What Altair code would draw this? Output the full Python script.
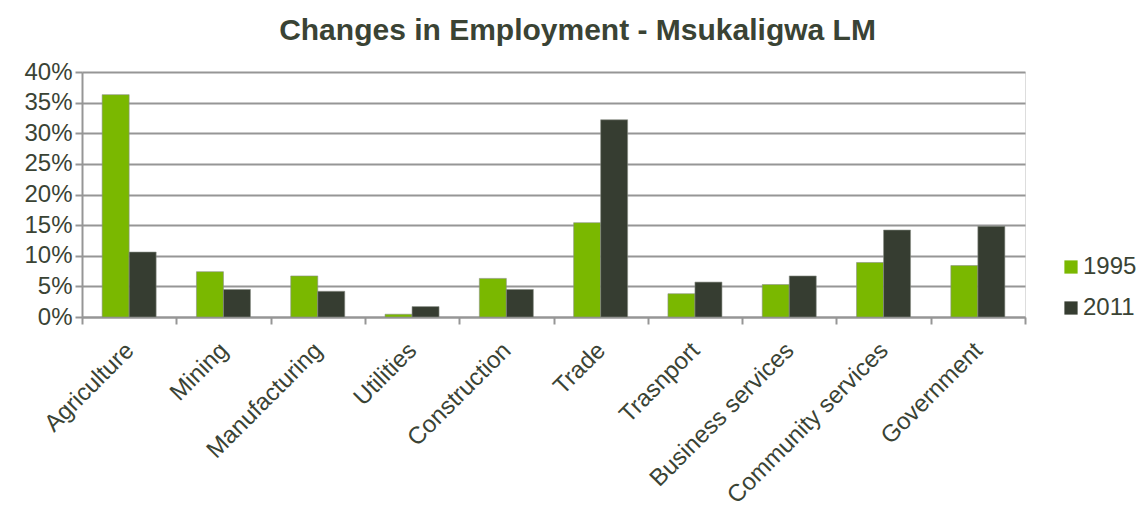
import altair as alt
import pandas as pd

categories = ["Agriculture", "Mining", "Manufacturing", "Utilities", "Construction",
              "Trade", "Trasnport", "Business services", "Community services", "Government"]
years = ["1995", "2011"]
values_1995 = [36.3, 7.4, 6.7, 0.45, 6.3, 15.4, 3.8, 5.3, 8.9, 8.4]
values_2011 = [10.6, 4.5, 4.2, 1.7, 4.5, 32.2, 5.7, 6.7, 14.2, 14.8]
y_ticks = [0, 0.05, 0.10, 0.15, 0.20, 0.25, 0.30, 0.35, 0.40]
colors = ["#7ab800", "#363d31"]

rows = []
for c, a, b in zip(categories, values_1995, values_2011):
    rows.append({"Sector": c, "Year": years[0], "Share": a / 100})
    rows.append({"Sector": c, "Year": years[1], "Share": b / 100})
df = pd.DataFrame(rows)

FONT = "Liberation Sans"
TXT = "#3a4334"
GRID = "#969696"

chart = alt.Chart(df).mark_bar(stroke="#8a8f86", strokeWidth=0.6).encode(
    x=alt.X("Sector:N", sort=categories,
            scale=alt.Scale(paddingInner=0, paddingOuter=0),
            axis=alt.Axis(title=None, labelAngle=-45, labelFontSize=24, labelColor=TXT,
                          labelFont=FONT, tickBand="extent", tickSize=7, tickColor=GRID,
                          tickWidth=2, domainColor=GRID, domainWidth=2, labelPadding=14,
                          labelOffset=-8, labelLimit=0, grid=False)),
    xOffset=alt.XOffset("Year:N", sort=years,
                        scale=alt.Scale(paddingInner=0, paddingOuter=0.746)),
    y=alt.Y("Share:Q", scale=alt.Scale(domain=[0, 0.4], nice=False),
            axis=alt.Axis(title=None, values=y_ticks, format=".0%", labelFontSize=24,
                          labelColor=TXT, labelFont=FONT, tickSize=7, tickColor=GRID,
                          tickWidth=2, domainColor=GRID, domainWidth=2, gridColor=GRID,
                          gridWidth=2, labelPadding=3)),
    color=alt.Color("Year:N", sort=years, scale=alt.Scale(domain=years, range=colors),
                    legend=alt.Legend(title=None, orient="none", legendX=977, legendY=183,
                                      symbolType="square", symbolSize=175,
                                      symbolStrokeWidth=0, labelFontSize=24,
                                      labelFont=FONT, labelColor=TXT, rowPadding=17,
                                      labelOffset=0)),
).properties(
    width=943,
    height=245,
    title=alt.TitleParams("Changes in Employment - Msukaligwa LM", fontSize=30,
                          font=FONT, fontWeight="bold", color=TXT, anchor="middle",
                          offset=14, dx=24),
    autosize=alt.AutoSizeParams(type="none"),
    padding={"left": 82, "top": 72, "right": 118, "bottom": 191},
).configure_view(stroke=None).configure(background="white")

chart.save("out.html", embed_options={"renderer": "svg", "actions": False})
